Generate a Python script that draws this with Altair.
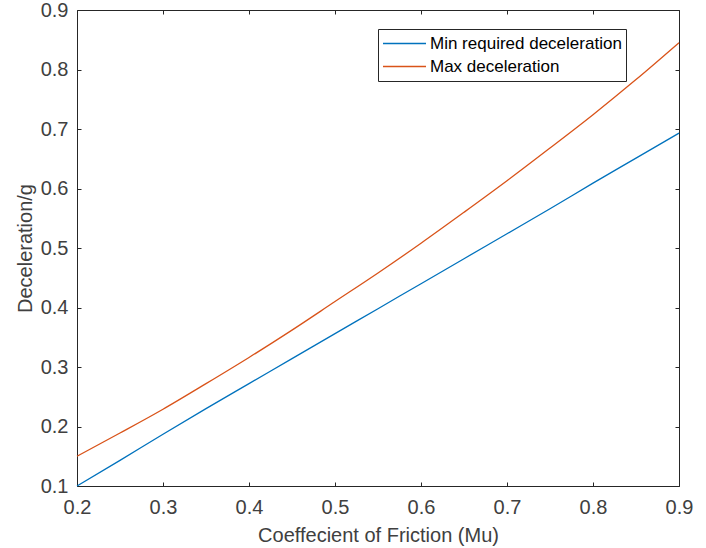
import altair as alt
import pandas as pd

mu = [0.2, 0.25, 0.3, 0.35, 0.4, 0.45, 0.5, 0.55, 0.6, 0.65, 0.7, 0.75, 0.8, 0.85, 0.9]
min_req = [0.100, 0.143, 0.187, 0.230, 0.272, 0.314, 0.356, 0.398, 0.440, 0.482,
           0.524, 0.566, 0.609, 0.651, 0.693]
max_dec = [0.150, 0.189, 0.229, 0.272, 0.316, 0.362, 0.410, 0.458, 0.508, 0.560,
           0.613, 0.668, 0.724, 0.783, 0.845]
series = ["Min required deceleration", "Max deceleration"]
colors = ["#0072BD", "#D95319"]

rows = []
for i, m in enumerate(mu):
    rows.append({"mu": m, "val": min_req[i], "series": series[0]})
    rows.append({"mu": m, "val": max_dec[i], "series": series[1]})
df = pd.DataFrame(rows)

FONT = "Liberation Sans"
TXT = "#404040"

xscale = alt.Scale(domain=[0.2, 0.9], nice=False, zero=False)
yscale = alt.Scale(domain=[0.1, 0.9], nice=False, zero=False)

common_axis = dict(domain=False, tickSize=4, offset=-4, tickColor="#262626",
                   tickWidth=1, grid=False, labelFont=FONT, labelColor=TXT,
                   titleFont=FONT, titleColor=TXT, titleFontWeight="normal",
                   labelFlush=False, labelOverlap=False)

xvals = [0.2, 0.3, 0.4, 0.5, 0.6, 0.7, 0.8, 0.9]
yvals = [0.1, 0.2, 0.3, 0.4, 0.5, 0.6, 0.7, 0.8, 0.9]

lines = alt.Chart(df).mark_line(strokeWidth=1.3, interpolate="monotone").encode(
    x=alt.X("mu:Q", scale=xscale,
            axis=alt.Axis(values=xvals, format=".1f",
                          labelFontSize=20, labelPadding=11, title="Coeffecient of Friction (Mu)",
                          titleFontSize=20, titlePadding=8, **common_axis)),
    y=alt.Y("val:Q", scale=yscale,
            axis=alt.Axis(values=yvals, format=".1f",
                          labelFontSize=20, labelPadding=9, title="Deceleration/g",
                          titleFontSize=20, titlePadding=5, **common_axis)),
    color=alt.Color("series:N", scale=alt.Scale(domain=series, range=colors),
                    legend=alt.Legend(title=None, orient="none", legendX=301, legendY=19,
                                      symbolType="stroke", symbolSize=1850, symbolStrokeWidth=1.3,
                                      labelFont=FONT, labelFontSize=17, labelColor="#000000",
                                      labelLimit=400, clipHeight=21,
                                      strokeColor="#262626", fillColor="white", padding=4,
                                      rowPadding=2, cornerRadius=0, labelOffset=3)),
)

top_right = alt.Chart(df).mark_line(opacity=0).encode(
    x=alt.X("mu:Q", scale=xscale,
            axis=alt.Axis(orient="top", values=xvals, labels=False, title=None, **common_axis)),
    y=alt.Y("val:Q", scale=yscale,
            axis=alt.Axis(orient="right", values=yvals, labels=False, title=None, **common_axis)),
)

chart = alt.layer(lines, top_right).resolve_axis(x="independent", y="independent").properties(
    width=602, height=476,
    autosize=alt.AutoSizeParams(type="none"),
    padding={"left": 77, "top": 10, "right": 27, "bottom": 62},
    background="white",
).configure_view(stroke="#262626", strokeWidth=1)

chart.save("out.html", embed_options={"renderer": "svg", "actions": False})
